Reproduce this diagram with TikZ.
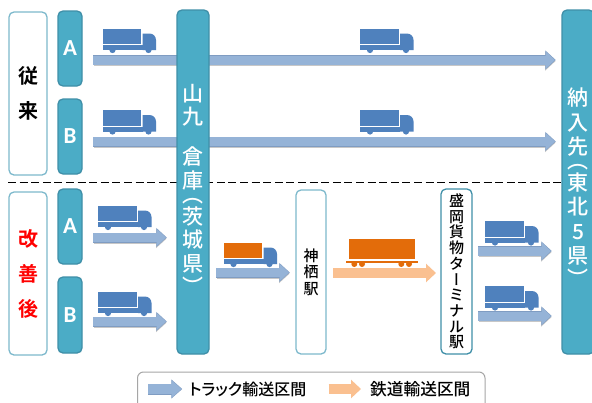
\documentclass[tikz,border=0pt]{standalone}
\usepackage{fontspec}
\usetikzlibrary{arrows.meta,backgrounds}
\setmainfont{Noto Sans CJK JP Medium}
\newfontfamily\jpv[RawFeature=+vert]{Noto Sans CJK JP Medium}
\newfontfamily\jpb{Noto Sans CJK JP Bold}
\newfontfamily\jpp[RawFeature=+palt]{Noto Sans CJK JP Medium}
\newfontfamily\latn{Carlito Bold}
\setlength\normallineskiplimit{-100pt}
\definecolor{tealfill}{HTML}{4BACC6}
\definecolor{tealline}{HTML}{3F8FA8}
\definecolor{paleline}{HTML}{7DB9CC}
\definecolor{truckblue}{HTML}{4F81BD}
\definecolor{cargoorange}{HTML}{E36C0A}
\definecolor{flowblue}{HTML}{95B3D7}
\definecolor{flowline}{HTML}{7F9CC2}
\definecolor{floworange}{HTML}{FAC090}
\newcommand\upglyph[2]{\smash{\raisebox{#1}{\jpv #2}}}
\tikzset{
  x=1pt,y=-1pt,
  stackbox/.style={rounded corners=5pt,line width=1.3pt,inner sep=0pt,outer sep=0pt,align=center},
  solidbox/.style={stackbox,fill=tealfill,draw=tealline,text=white},
  palebox/.style={stackbox,fill=white,draw=paleline,text=black},
  truckflow/.style={line width=9pt,draw=flowblue,-{Triangle[length=9.5pt,width=17pt]},
    preaction={draw=black!22,line width=10pt,-{Triangle[length=10.5pt,width=18.5pt]},transform canvas={xshift=.6pt,yshift=-1.1pt}},
    preaction={draw=flowline,line width=10pt,-{Triangle[length=10.5pt,width=18.5pt]},shorten >=-0.8pt}},
  railflow/.style={line width=10pt,draw=floworange,-{Triangle[length=10pt,width=18pt]}},
  legendflow/.style={line width=10pt,draw=flowblue,-{Triangle[length=10pt,width=17pt]},
    preaction={draw=flowline,line width=11pt,-{Triangle[length=11pt,width=18.5pt]},shorten >=-0.8pt}},
  pics/truck/.style={code={
    \fill[#1] (0,0) rectangle (38.5,15.5);
    \fill[truckblue] (0,16.5) rectangle (40,21.5);
    \fill[truckblue] (40,21.5) -- (40,5) -- (47,5) to[out=0,in=90] (53.5,11.5) -- (53.5,21.5) -- cycle;
    \fill[truckblue] (10,21.5) circle (3.1) (46,21.5) circle (3.1);
  }},
}
\begin{document}
\begin{tikzpicture}
\useasboundingbox (0,0) rectangle (592,402);
\clip (0,0) rectangle (592,402);

% blocks
\node[palebox,minimum width=38pt,minimum height=163pt,font=\jpb\fontsize{20}{35.5}\selectfont] (past) at (28,93.5) {従\\来};
\node[palebox,minimum width=38pt,minimum height=163pt,text=red,font=\jpb\fontsize{20}{35}\selectfont] (after) at (28,273.5) {改\\善\\後};
\node[solidbox,minimum width=24pt,minimum height=75pt,font=\latn\fontsize{23}{23}\selectfont] (pa) at (70,48.5) {A};
\node[solidbox,minimum width=24pt,minimum height=75pt,font=\latn\fontsize{23}{23}\selectfont] (pb) at (70,136.5) {B};
\node[solidbox,minimum width=24pt,minimum height=75pt,font=\latn\fontsize{23}{23}\selectfont] (na) at (70,226.5) {A};
\node[solidbox,minimum width=24pt,minimum height=76pt,font=\latn\fontsize{23}{23}\selectfont] (nb) at (70,315) {B};
\node[solidbox,minimum width=32pt,minimum height=344pt,font=\fontsize{21}{23.5}\selectfont] (depot) at (193,182)
  {\raisebox{-12.5pt}[0pt][0pt]{\parbox{32pt}{\centering 山\\九\\[16.5pt]倉\\庫\\[-5.5pt]\upglyph{4pt}{（}\\[-5.5pt]茨\\城\\県\\[0pt]\upglyph{0pt}{）}}}};
\node[solidbox,minimum width=32pt,minimum height=344pt,font=\fontsize{21}{24.2}\selectfont] (dest) at (578,182)
  {\raisebox{-10.5pt}[0pt][0pt]{\parbox{32pt}{\centering 納\\入\\先\\[-6pt]\upglyph{4pt}{（}\\[-6pt]東\\北\\5\\県\\[-1pt]\upglyph{0pt}{）}}}};
\node[palebox,minimum width=30pt,minimum height=164pt,font=\fontsize{15}{16.5}\selectfont] (kamisu) at (311,272) {神\\栖\\駅};
\node[palebox,draw=tealline,minimum width=31pt,minimum height=165pt,font=\fontsize{15}{15.7}\selectfont] (morioka) at (456.5,271.5)
  {盛\\岡\\貨\\物\\タ\\{\jpv ー}\\ミ\\ナ\\ル\\駅};

% free ends of the connectors
\coordinate (p1s) at (93,60);   \coordinate (p1e) at (555,60);
\coordinate (p2s) at (93,141.5);\coordinate (p2e) at (555,141.5);
\coordinate (n1s) at (93,237.5);\coordinate (n1e) at (166,237.5);
\coordinate (n2s) at (93,321.5);\coordinate (n2e) at (166,321.5);
\coordinate (ds)  at (216,272.5);\coordinate (de) at (289,272.5);
\coordinate (rs)  at (333,273);  \coordinate (re) at (436,273);
\coordinate (m1s) at (478,251); \coordinate (m1e) at (551,251);
\coordinate (m2s) at (478,316); \coordinate (m2e) at (551,316);

\begin{scope}[on background layer]
  \fill[white] (0,0) rectangle (592,402);
  \draw[truckflow] (p1s) -- (p1e);
  \draw[truckflow] (p2s) -- (p2e);
  \draw[line width=1.5pt,dash pattern=on 8pt off 3.6pt] (8,182.5) -- (592,182.5);
\end{scope}
\draw[truckflow] (n1s) -- (n1e);
\draw[truckflow] (n2s) -- (n2e);
\draw[truckflow] (ds) -- (de);
\draw[railflow] (rs) -- (re);
\draw[truckflow] (m1s) -- (m1e);
\draw[truckflow] (m2s) -- (m2e);

% trucks
\pic at (102.5,28.5) {truck=truckblue};
\pic at (360,28.5) {truck=truckblue};
\pic at (102.5,110) {truck=truckblue};
\pic at (360,110) {truck=truckblue};
\pic at (98,205.5) {truck=truckblue};
\pic at (98,291.5) {truck=truckblue};
\pic at (485,221) {truck=truckblue};
\pic at (485,286) {truck=truckblue};
\pic at (223.5,242.5) {truck=cargoorange};

% rail wagon
\fill[cargoorange] (348.7,239.3) rectangle (415.3,259.3);
\fill[cargoorange] (346,260.7) rectangle (418,263);
\fill[cargoorange] (354.3,264) circle (3) (362,264) circle (3) (401.3,264) circle (3) (409,264) circle (3);

% legend
\draw[line width=1pt,draw=black!35,rounded corners=6pt,fill=white] (137.5,372) rectangle (485,412);
\coordinate (l1s) at (148,389); \coordinate (l1e) at (181.5,389);
\coordinate (l2s) at (328.5,389);\coordinate (l2e) at (361,389);
\draw[legendflow] (l1s) -- (l1e);
\draw[railflow] (l2s) -- (l2e);
\node[anchor=west,inner sep=0pt,font=\jpp\fontsize{16}{16}\selectfont] (l1t) at (189,389.5) {トラック輸送区間};
\node[anchor=west,inner sep=0pt,font=\jpp\fontsize{16.7}{16}\selectfont] (l2t) at (370,389.5) {鉄道輸送区間};
\end{tikzpicture}
\end{document}
